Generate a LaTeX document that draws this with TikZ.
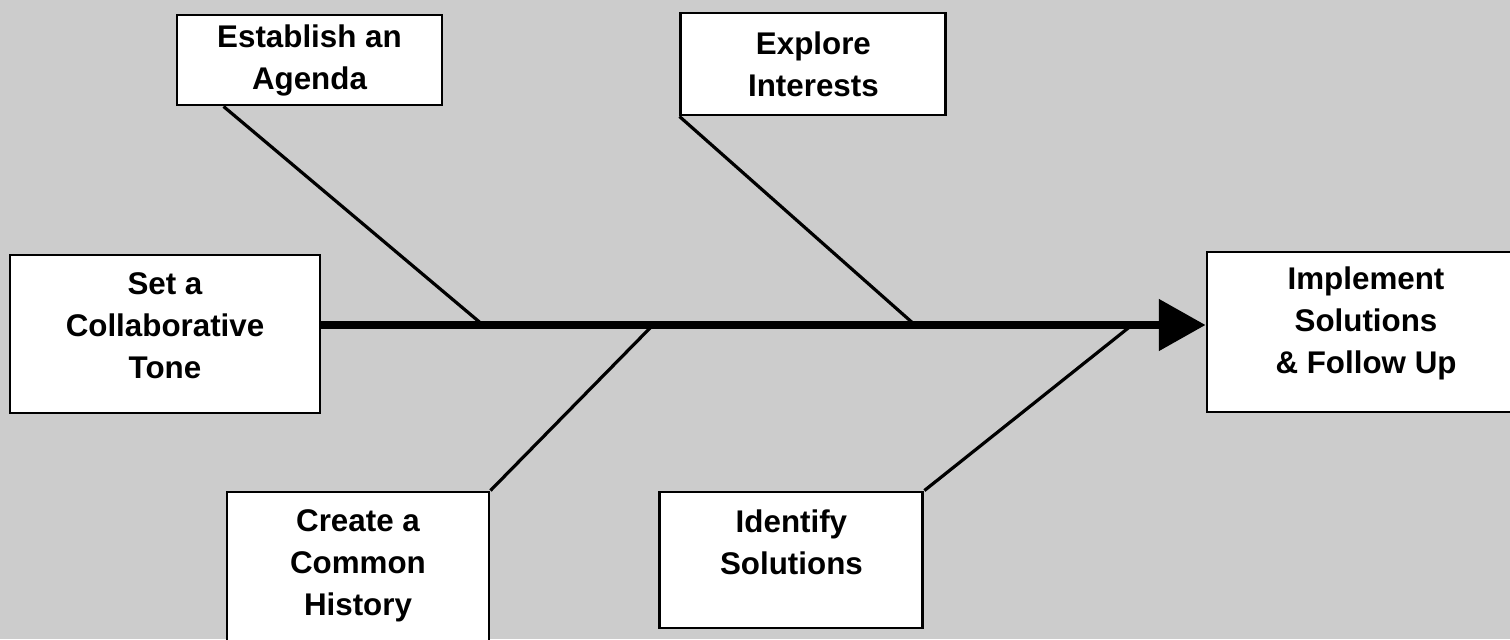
\documentclass[tikz,border=0pt]{standalone}
\usepackage{fontspec}
\setmainfont{Liberation Sans}
\usetikzlibrary{arrows.meta, positioning}

\begin{document}
\begin{tikzpicture}[x=0.75pt, y=-0.75pt]

\tikzstyle{block}=[rectangle,draw,line width=2.2pt,fill=white,align=center,inner sep=0pt,font=\fontsize{23.5}{31.5}\selectfont\bfseries]
\tikzstyle{bone}=[draw,line width=2.4pt]

% background
\fill[black!20] (0,0) rectangle (1510,639);
\useasboundingbox (0,0) rectangle (1510,639);
\clip (0,0) rectangle (1510,639);

\node (tone) [block,minimum width=232.5pt,minimum height=118.5pt,text depth=12pt] at (165,334) {Set a\\Collaborative\\Tone};
\node (implement) [block,minimum width=238.5pt,minimum height=120pt,text depth=18.5pt] at (1366,332) {Implement\\Solutions\\\& Follow Up};

\node (agenda) [block,minimum width=198.75pt,minimum height=67.5pt] at (309.5,60) {Establish an\\Agenda};
\node (interests) [block,minimum width=198.75pt,minimum height=76.5pt,right=177pt of agenda,yshift=-3pt] {Explore\\Interests};

\node (history) [block,minimum width=196.5pt,minimum height=122.25pt,text depth=17pt] at (358,573.5) {Create a\\Common\\History};
\node (solutions) [block,minimum width=197.25pt,minimum height=102pt,text depth=27pt,right=126pt of history.north east,anchor=north west] {Identify\\Solutions};

% joints on the spine
\coordinate (j1) at (483,325);
\coordinate (j2) at (653,325);
\coordinate (j3) at (915,325);
\coordinate (j4) at (1132,325);

% Connections
\draw[bone] ([xshift=36pt]agenda.south west) -- (j1);
\draw[bone] (interests.south west) -- (j3);
\draw[bone] (history.north east) -- (j2);
\draw[bone] (solutions.north east) -- (j4);

\draw[line width=6pt,-{Triangle[length=35pt,width=37.5pt]}] ([yshift=6.75pt]tone.east) -- ([yshift=5.25pt]implement.west);

\end{tikzpicture}
\end{document}
